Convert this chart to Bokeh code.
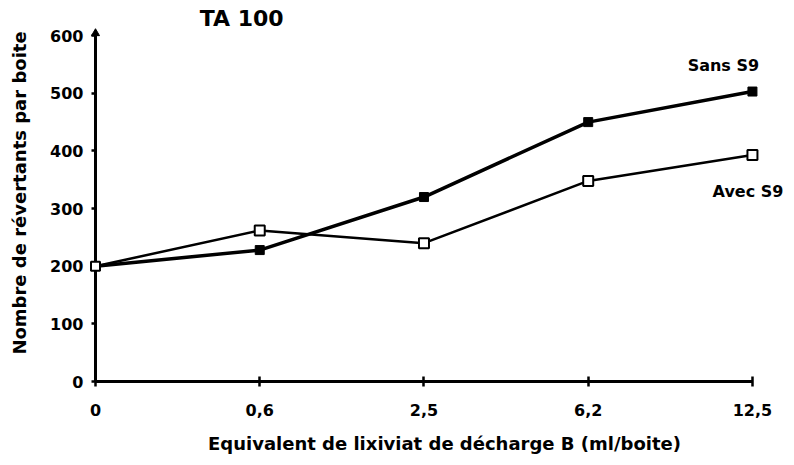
from bokeh.plotting import figure
from bokeh.models import Range1d, FixedTicker
from bokeh.core.properties import value
from bokeh.embed import file_html
from bokeh.resources import INLINE

x_labels = ["0", "0,6", "2,5", "6,2", "12,5"]
x_idx = [0, 1, 2, 3, 4]
sans_s9 = [200, 228, 320, 450, 503]
avec_s9 = [200, 262, 240, 348, 393]
y_ticks = [0, 100, 200, 300, 400, 500, 600]
title_text = "TA 100"
ylabel = "Nombre de révertants par boite"
xlabel = "Equivalent de lixiviat de décharge B (ml/boite)"

FONT = "DejaVu Sans"

p = figure(width=794, height=465, output_backend="svg", toolbar_location=None,
           x_range=Range1d(0, 4.25), y_range=Range1d(0, 654),
           min_border_left=95, min_border_right=1, min_border_top=4, min_border_bottom=84)
p.outline_line_color = None
p.xgrid.visible = False
p.ygrid.visible = False
p.background_fill_color = "white"

for ax in (p.xaxis[0], p.yaxis[0]):
    ax.axis_line_width = 3
    ax.axis_line_color = "black"
    ax.major_tick_line_width = 2.5
    ax.major_tick_line_color = "black"
    ax.minor_tick_line_color = None
    ax.major_label_text_font = FONT
    ax.major_label_text_font_style = "bold"
    ax.major_label_text_font_size = "16px"
    ax.major_label_text_color = "black"
    ax.axis_label_text_font = FONT
    ax.axis_label_text_font_style = "bold"
    ax.axis_label_text_font_size = "18px"
    ax.axis_label_text_color = "black"

xa = p.xaxis[0]
xa.ticker = FixedTicker(ticks=x_idx)
xa.major_label_overrides = {i: l for i, l in zip(x_idx, x_labels)}
xa.bounds = (x_idx[0], x_idx[-1])
xa.major_tick_in = 5
xa.major_tick_out = 5
xa.major_label_standoff = 17
xa.axis_label = xlabel
xa.axis_label_standoff = 14

ya = p.yaxis[0]
ya.ticker = FixedTicker(ticks=y_ticks)
ya.bounds = (y_ticks[0], y_ticks[-1])
ya.major_tick_in = 0
ya.major_tick_out = 4
ya.major_label_standoff = 8
ya.axis_label = ylabel
ya.axis_label_standoff = 17

p.line(x_idx, sans_s9, line_color="black", line_width=3.5)
p.scatter(x_idx[1:], sans_s9[1:], marker="square", size=9, fill_color="black", line_color="black")
p.line(x_idx, avec_s9, line_color="black", line_width=2.5)
p.scatter(x_idx[1:], avec_s9[1:], marker="square", size=10, fill_color="white",
          line_color="black", line_width=2)

brk = p.scatter([x_idx[0]], [avec_s9[0]], marker="square", size=9, fill_color="white",
                line_color="black", line_width=2)
brk.level = "overlay"

arr = p.scatter([x_idx[0]], [y_ticks[-1] + 4], marker="triangle", size=8,
                fill_color="black", line_color="black")
arr.level = "overlay"

p.text([0.89], [629], text=[title_text], text_font=value(FONT), text_font_style="bold",
       text_font_size="22px", text_align="center", text_baseline="middle", text_color="black")
p.text([3.84], [548], text=["Sans  S9"], text_font=value(FONT), text_font_style="bold",
       text_font_size="16px", text_align="center", text_baseline="middle", text_color="black")
p.text([3.99], [329], text=["Avec  S9"], text_font=value(FONT), text_font_style="bold",
       text_font_size="16px", text_align="center", text_baseline="middle", text_color="black")

open("out.html", "w").write(file_html(p, INLINE))
